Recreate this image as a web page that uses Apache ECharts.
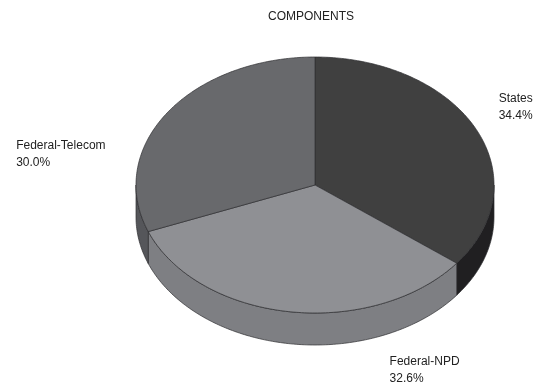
<!DOCTYPE html>
<html>
<head>
<meta charset="utf-8">
<script src="https://cdn.jsdelivr.net/npm/echarts@6/dist/echarts.min.js"></script>
<style>
  html, body { margin: 0; padding: 0; background: #ffffff; }
  #chart { width: 543px; height: 390px; }
</style>
</head>
<body>
<div id="chart"></div>
<script>
// Funding components
const categories = ['States', 'Federal-NPD', 'Federal-Telecom'];
const shares = [34.4, 32.6, 30.0];

// Appearance
const topColors = ['#404040', '#8f9094', '#68696c'];
const sideColors = ['#201f21', '#7e7f83', '#55565a'];
const edgeColor = '#2e2e30';
const disc = { cx: 315, cy: 185, rx: 179, ry: 128, depth: 32 };
// label anchor offsets from the slice mid-point on the rim: [dx, dy]
const labelOffsets = [[23, -38], [100, 41], [-151, 24]];
const FONT = '"Liberation Sans", Arial, sans-serif';

const total = shares.reduce((a, b) => a + b, 0);
const starts = [];
let acc = 0;
shares.forEach(v => { starts.push(acc); acc += v; });

function angleOf(v) { return v / total * Math.PI * 2; }
// theta measured clockwise from 12 o'clock on the tilted disc
function pt(theta, dy) {
  return [disc.cx + disc.rx * Math.sin(theta), disc.cy - disc.ry * Math.cos(theta) + (dy || 0)];
}
function arc(a0, a1, dy) {
  const n = Math.max(2, Math.ceil(Math.abs(a1 - a0) / 0.015));
  const pts = [];
  for (let i = 0; i <= n; i++) pts.push(pt(a0 + (a1 - a0) * i / n, dy));
  return pts;
}

const seriesData = shares.map((v, i) => [i, v]);

// outer wall of each slice, only where it faces the viewer
function renderSide(params, api) {
  const i = params.dataIndex;
  const a0 = angleOf(starts[i]);
  const a1 = angleOf(starts[i] + api.value(1));
  const lo = Math.max(a0, Math.PI / 2);
  const hi = Math.min(a1, Math.PI * 1.5);
  if (hi <= lo) return null;
  const pts = arc(lo, hi, 0).concat(arc(hi, lo, disc.depth));
  return {
    type: 'polygon',
    shape: { points: pts },
    style: { fill: sideColors[i], stroke: edgeColor, lineWidth: 0.7 }
  };
}

// top face of each slice plus its label
function renderTop(params, api) {
  const i = params.dataIndex;
  const v = api.value(1);
  const a0 = angleOf(starts[i]);
  const a1 = angleOf(starts[i] + v);
  const pts = [[disc.cx, disc.cy]].concat(arc(a0, a1, 0));
  const rim = pt((a0 + a1) / 2, 0);
  const off = labelOffsets[i];
  return {
    type: 'group',
    children: [
      {
        type: 'polygon',
        shape: { points: pts },
        style: { fill: topColors[i], stroke: edgeColor, lineWidth: 0.7 }
      },
      {
        type: 'text',
        style: {
          text: categories[i] + '\n' + v.toFixed(1) + '%',
          x: rim[0] + off[0],
          y: rim[1] + off[1],
          align: 'left',
          verticalAlign: 'top',
          fill: '#222222',
          fontSize: 12,
          fontFamily: FONT,
          lineHeight: 17
        }
      }
    ]
  };
}

const chart = echarts.init(document.getElementById('chart'), null, { renderer: 'canvas' });
chart.setOption({
  animation: false,
  backgroundColor: '#ffffff',
  title: {
    text: 'COMPONENTS',
    left: 306,
    top: 6,
    textAlign: 'center',
    textStyle: { fontSize: 12, fontWeight: 'normal', color: '#222222', fontFamily: FONT }
  },
  series: [
    { type: 'custom', coordinateSystem: 'none', z: 2, data: seriesData, renderItem: renderSide, silent: true },
    { type: 'custom', coordinateSystem: 'none', z: 3, data: seriesData, renderItem: renderTop, silent: true }
  ]
});
</script>
</body>
</html>
